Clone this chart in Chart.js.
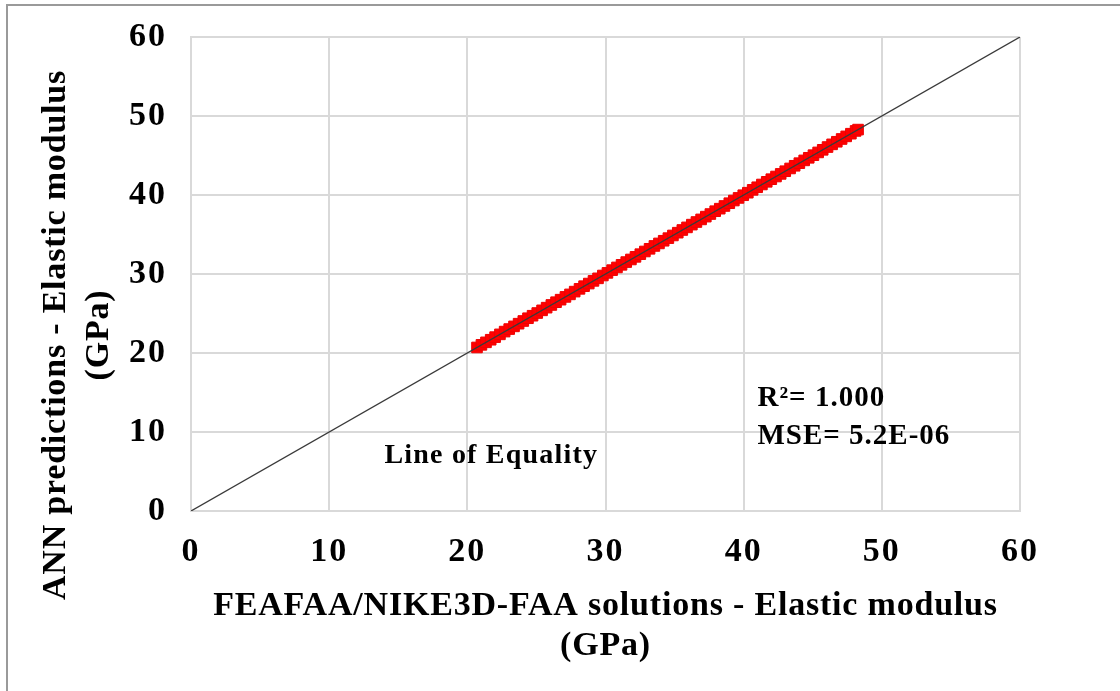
<!DOCTYPE html>
<html>
<head>
<meta charset="utf-8">
<script src="https://cdn.jsdelivr.net/npm/chart.js@4.4.1/dist/chart.umd.min.js"></script>
<style>
  html, body { margin: 0; padding: 0; background: #fff; }
  #wrap { position: relative; width: 1120px; height: 691px; overflow: hidden; }
  canvas { display: block; }
</style>
</head>
<body>
<div id="wrap"><canvas id="modulus-chart" width="1120" height="691"></canvas></div>
<script>
// FEAFAA/NIKE3D-FAA solutions (x) vs ANN predictions (y), elastic modulus in GPa
const feaModulus = [
  20.70, 21.02, 21.35, 21.69, 22.01, 22.36, 22.70, 23.03, 23.38, 23.71,
  24.05, 24.39, 24.72, 25.06, 25.41, 25.74, 26.08, 26.42, 26.75, 27.10,
  27.43, 27.77, 28.12, 28.45, 28.79, 29.13, 29.46, 29.81, 30.14, 30.48,
  30.83, 31.16, 31.50, 31.84, 32.17, 32.52, 32.85, 33.19, 33.54, 33.87,
  34.21, 34.55, 34.88, 35.23, 35.56, 35.90, 36.25, 36.58, 36.92, 37.26,
  37.59, 37.94, 38.27, 38.61, 38.96, 39.29, 39.63, 39.97, 40.30, 40.65,
  40.98, 41.32, 41.67, 42.00, 42.34, 42.68, 43.01, 43.36, 43.69, 44.03,
  44.38, 44.71, 45.05, 45.39, 45.72, 46.07, 46.40, 46.74, 47.09, 47.42,
  47.76, 48.10, 48.28
];
const annModulus = [
  20.70, 21.03, 21.35, 21.68, 22.01, 22.36, 22.71, 23.03, 23.37, 23.71,
  24.05, 24.40, 24.72, 25.06, 25.40, 25.74, 26.08, 26.43, 26.75, 27.10,
  27.42, 27.77, 28.12, 28.46, 28.79, 29.13, 29.45, 29.81, 30.14, 30.49,
  30.83, 31.16, 31.51, 31.84, 32.17, 32.51, 32.85, 33.19, 33.55, 33.87,
  34.21, 34.54, 34.88, 35.23, 35.57, 35.90, 36.25, 36.58, 36.91, 37.26,
  37.59, 37.95, 38.27, 38.61, 38.96, 39.30, 39.63, 39.97, 40.29, 40.65,
  40.98, 41.33, 41.67, 42.00, 42.34, 42.67, 43.01, 43.36, 43.70, 44.03,
  44.38, 44.71, 45.04, 45.39, 45.72, 46.07, 46.41, 46.74, 47.09, 47.42,
  47.76, 48.11, 48.28
];
const equalityLine = [0, 60];
const axisTicks = [0, 10, 20, 30, 40, 50, 60];

const xTitle = ['FEAFAA/NIKE3D-FAA solutions - Elastic modulus', '(GPa)'];
const yTitle = ['ANN predictions - Elastic modulus', '(GPa)'];
const statsText = ['R²= 1.000', 'MSE= 5.2E-06'];

const FONT = "'Liberation Serif', 'Times New Roman', serif";
const GRID = '#d9d9d9';

// frame, axis titles and the text boxes inside the plot
const decorPlugin = {
  id: 'decor',
  beforeDraw(chart) {
    const ctx = chart.ctx;
    ctx.save();
    ctx.strokeStyle = '#9a9a9a';
    ctx.lineWidth = 2;
    ctx.beginPath();
    ctx.moveTo(7, 700);
    ctx.lineTo(7, 5);
    ctx.lineTo(1130, 5);
    ctx.stroke();
    ctx.restore();
    // slightly wider tracking for the tick labels
    ctx.letterSpacing = '2px';
  },
  afterDraw(chart) {
    const { ctx, chartArea, scales } = chart;
    const cx = (chartArea.left + chartArea.right) / 2;
    const cy = 335;
    ctx.save();
    ctx.fillStyle = '#000';
    ctx.textAlign = 'center';
    ctx.textBaseline = 'middle';
    ctx.letterSpacing = '0.8px';
    ctx.font = 'bold 34px ' + FONT;
    ctx.fillText(xTitle[0], cx, 606);
    ctx.fillText(xTitle[1], cx, 646);

    ctx.save();
    ctx.translate(56, cy);
    ctx.rotate(-Math.PI / 2);
    ctx.fillText(yTitle[0], 0, 0);
    ctx.restore();
    ctx.save();
    ctx.translate(99, cy);
    ctx.rotate(-Math.PI / 2);
    ctx.fillText(yTitle[1], 0, 0);
    ctx.restore();

    // line label and fit statistics, placed in data units
    ctx.textAlign = 'left';
    ctx.letterSpacing = '1.2px';
    ctx.font = 'bold 28px ' + FONT;
    ctx.fillText('Line of Equality', scales.x.getPixelForValue(14.0), scales.y.getPixelForValue(7.0));
    ctx.letterSpacing = '1px';
    ctx.font = 'bold 29px ' + FONT;
    ctx.fillText(statsText[0], scales.x.getPixelForValue(41.0), scales.y.getPixelForValue(14.3));
    ctx.fillText(statsText[1], scales.x.getPixelForValue(41.0), scales.y.getPixelForValue(9.4));
    ctx.restore();
  }
};

const ctx = document.getElementById('modulus-chart').getContext('2d');
new Chart(ctx, {
  type: 'scatter',
  data: {
    datasets: [
      {
        type: 'line',
        label: 'Line of Equality',
        data: equalityLine.map(v => ({ x: v, y: v })),
        borderColor: '#3a3a3a',
        borderWidth: 1.3,
        pointRadius: 0,
        fill: false
      },
      {
        label: 'ANN predictions',
        data: feaModulus.map((v, i) => ({ x: v, y: annModulus[i] })),
        backgroundColor: '#ff0000',
        borderColor: '#ee0000',
        borderWidth: 1,
        pointStyle: 'rect',
        pointRadius: 7.5,
        pointHoverRadius: 7.5
      }
    ]
  },
  options: {
    responsive: false,
    animation: false,
    devicePixelRatio: 1,
    layout: { padding: { top: 37, right: 100, left: 0, bottom: 0 } },
    plugins: {
      legend: { display: false },
      tooltip: { enabled: false }
    },
    scales: {
      x: {
        type: 'linear',
        min: axisTicks[0],
        max: axisTicks[axisTicks.length - 1],
        afterBuildTicks: s => { s.ticks = axisTicks.map(v => ({ value: v })); },
        afterFit: s => { s.height = 180; s.paddingLeft = 0; s.paddingRight = 0; },
        grid: { color: GRID, lineWidth: 2, drawTicks: false },
        border: { color: GRID, width: 2 },
        ticks: { color: '#000', padding: 21, font: { family: FONT, size: 34, weight: 'bold' } }
      },
      y: {
        type: 'linear',
        min: axisTicks[0],
        max: axisTicks[axisTicks.length - 1],
        afterBuildTicks: s => { s.ticks = axisTicks.map(v => ({ value: v })); },
        afterFit: s => { s.width = 191; s.paddingTop = 0; s.paddingBottom = 0; },
        grid: { color: GRID, lineWidth: 2, drawTicks: false },
        border: { color: GRID, width: 2 },
        ticks: { color: '#000', padding: 24, font: { family: FONT, size: 34, weight: 'bold' } }
      }
    }
  },
  plugins: [decorPlugin]
});
</script>
</body>
</html>
